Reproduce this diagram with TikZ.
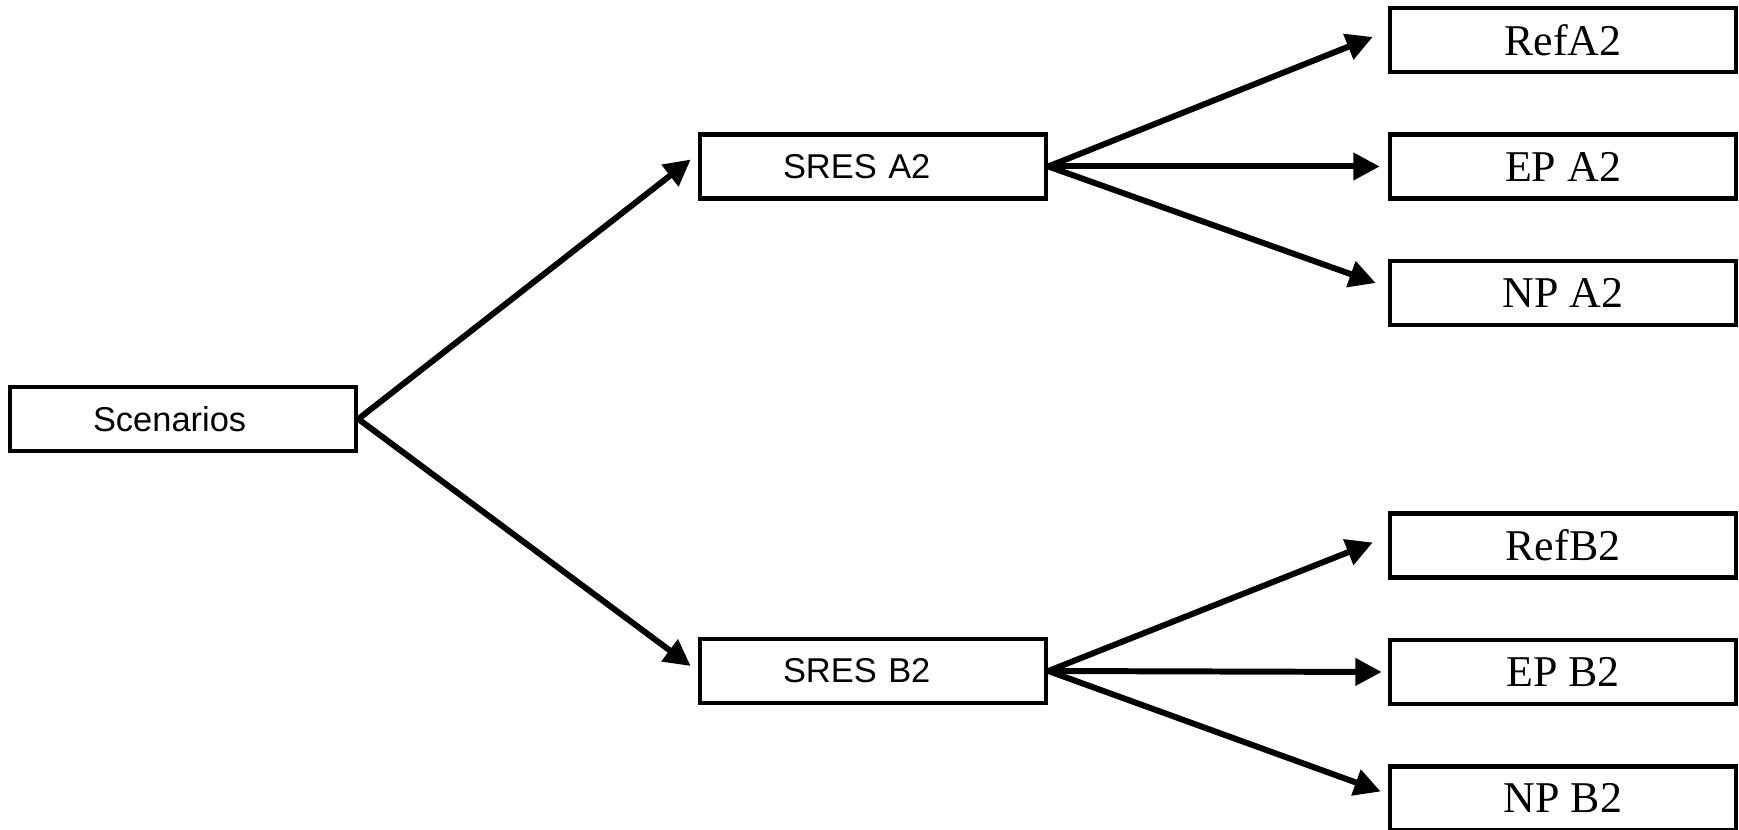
\documentclass[tikz,border=0pt]{standalone}
\usepackage{fontspec}
\setmainfont{Liberation Serif}
\setsansfont{Liberation Sans}
\usetikzlibrary{arrows.meta}

\tikzstyle{sansbox} = [
    rectangle,
    draw=black,
    line width=1.3pt,
    minimum height=0.64cm,
    inner xsep=0.83cm,
    text width=1.8cm,
    align=left,
    font=\sffamily\fontsize{9.8}{12}\selectfont,
]
\tikzstyle{serifbox} = [
    rectangle,
    draw=black,
    line width=1.3pt,
    minimum width=3.46cm,
    minimum height=0.64cm,
    text centered,
    font=\fontsize{12.5}{15}\selectfont,
]
\tikzstyle{arrow} = [
    line width=1.7pt,
    -{Triangle[length=7.5pt,width=7.5pt]}
]

\begin{document}
\begin{tikzpicture}[node distance=1.265cm]
        \useasboundingbox (0,0) rectangle (17.39,8.29);
        \node (scen) [sansbox] at (1.83,4.10) {Scenarios};
        \node (sresA) [sansbox] at (8.73,6.625) {SRES A2};
        \node (sresB) [sansbox] at (8.73,1.58) {SRES B2};
        \node (epA) [serifbox] at (15.63,6.625) {EP A2};
        \node (refA) [serifbox, above of=epA] {RefA2};
        \node (npA) [serifbox, below of=epA] {NP A2};
        \node (epB) [serifbox] at (15.63,1.57) {EP B2};
        \node (refB) [serifbox, above of=epB] {RefB2};
        \node (npB) [serifbox, below of=epB] {NP B2};
        \draw [arrow] (scen.east) -- ([shift={(-0.07,0.07)}]sresA.west);
        \draw [arrow] (scen.east) -- ([shift={(-0.07,0.05)}]sresB.west);
        \draw [arrow] (sresA.east) -- ([shift={(-0.15,0.03)}]refA.west);
        \draw [arrow] (sresA.east) -- ([xshift=-0.08cm]epA.west);
        \draw [arrow] (sresA.east) -- ([shift={(-0.12,0.1)}]npA.west);
        \draw [arrow] (sresB.east) -- ([shift={(-0.15,0.03)}]refB.west);
        \draw [arrow] (sresB.east) -- ([xshift=-0.06cm]epB.west);
        \draw [arrow] (sresB.east) -- ([shift={(-0.07,0.07)}]npB.west);
    \end{tikzpicture}
\end{document}
